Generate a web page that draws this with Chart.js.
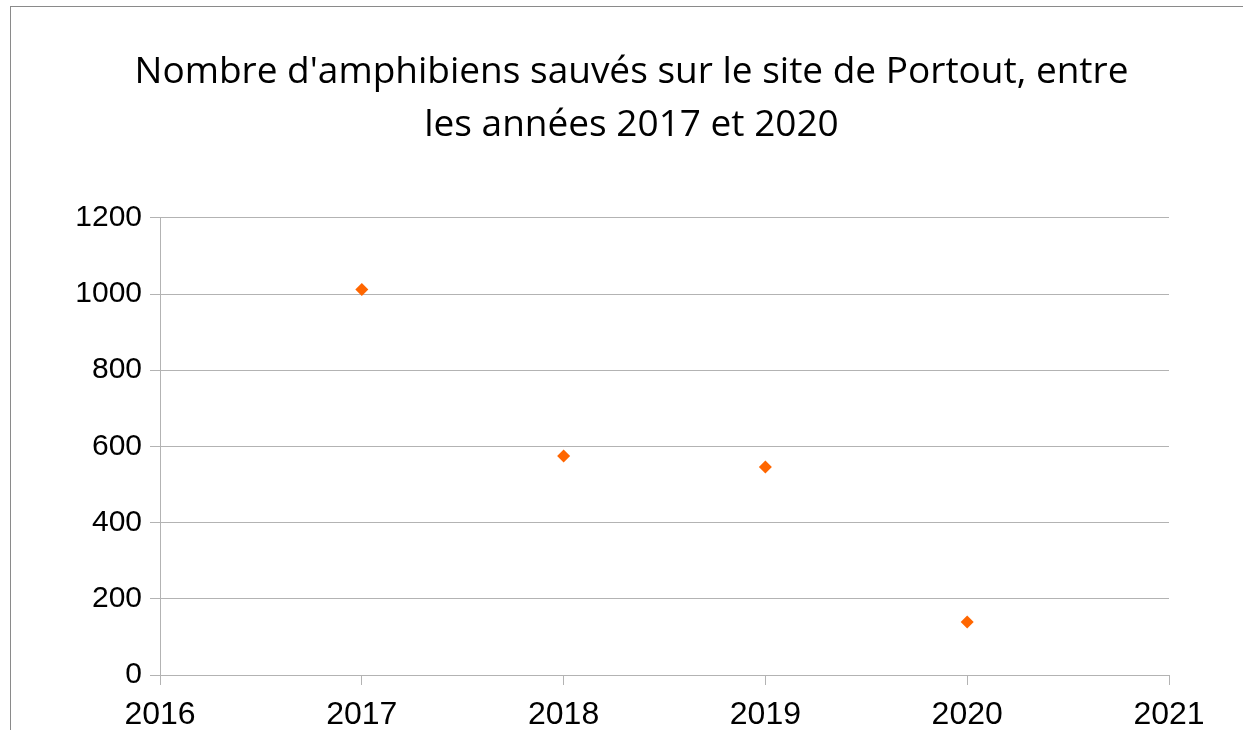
<!DOCTYPE html>
<html lang="fr">
<head>
<meta charset="utf-8">
<title>Amphibiens sauvés — Portout</title>
<script src="https://cdn.jsdelivr.net/npm/chart.js@4.4.1/dist/chart.umd.min.js"></script>
<style>
  html, body { margin: 0; padding: 0; background: #fff; overflow: hidden; }
  #wrap { position: relative; width: 1243px; height: 730px; }
  #cadre { position: absolute; left: 10px; top: 6px; right: -10px; bottom: -10px;
           border-left: 1px solid #8a8a8a; border-top: 1px solid #8a8a8a; }
  canvas { position: absolute; left: 0; top: 0; }
</style>
</head>
<body>
<div id="wrap">
  <div id="cadre"></div>
  <canvas id="graphe" width="1243" height="730"></canvas>
</div>
<script>
// données
const annees = [2017, 2018, 2019, 2020];
const amphibiens = [1012, 575, 546, 139];
const titre = ["Nombre d'amphibiens sauvés sur le site de Portout, entre", "les années 2017 et 2020"];
const xMin = 2016, xMax = 2021;
const yMin = 0, yMax = 1200, yPas = 200;

const GRIS = '#b3b3b3';
const ORANGE = '#ff6600';
const police = "'Liberation Sans', Arial, sans-serif";

new Chart(document.getElementById('graphe'), {
  type: 'scatter',
  data: {
    datasets: [{
      label: 'Amphibiens',
      data: annees.map((a, i) => ({ x: a, y: amphibiens[i] })),
      pointStyle: 'rectRot',
      pointRadius: 6.5,
      pointBackgroundColor: ORANGE,
      pointBorderColor: ORANGE,
      pointBorderWidth: 0,
    }],
  },
  options: {
    responsive: false,
    animation: false,
    layout: { padding: { left: 20, right: 0, top: 0, bottom: 0 } },
    plugins: {
      legend: { display: false },
      tooltip: { enabled: false },
      title: {
        display: true,
        text: titre,
        color: '#000',
        font: { family: "'Open Sans', sans-serif", size: 37, weight: 'normal', lineHeight: 1.43 },
        padding: { top: 46, bottom: 66 },
      },
    },
    scales: {
      x: {
        type: 'linear',
        min: xMin, max: xMax,
        ticks: { stepSize: 1, color: '#000', font: { family: police, size: 32 }, padding: 11,
                 callback: v => String(v) },
        grid: { display: true, drawOnChartArea: false, color: GRIS, tickLength: 10 },
        border: { color: GRIS },
        afterFit: s => { s.height = 55; },
      },
      y: {
        min: yMin, max: yMax,
        ticks: { stepSize: yPas, color: '#000', font: { family: police, size: 30 }, padding: 8,
                 callback: v => String(v) },
        grid: { color: GRIS, tickLength: 10 },
        border: { color: GRIS },
        afterFit: s => { s.width = 140; },
      },
      // axe vide à droite : réserve la marge sans décentrer le titre
      marge: {
        type: 'linear',
        position: 'right',
        display: true,
        ticks: { display: false },
        grid: { display: false },
        border: { display: false },
        afterFit: s => { s.width = 74; },
      },
    },
  },
});
</script>
</body>
</html>
